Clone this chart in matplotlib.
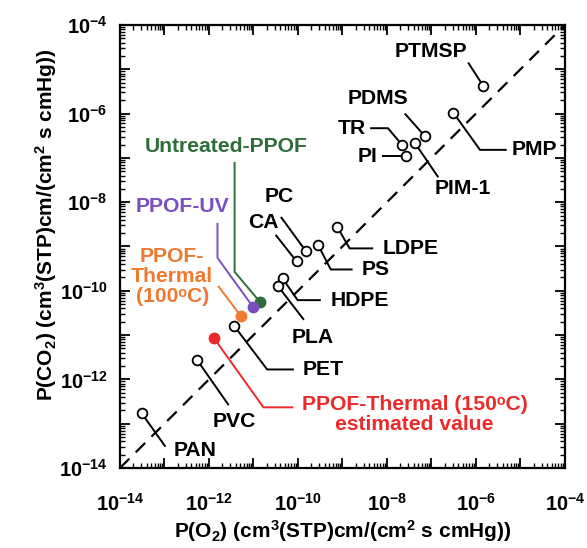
import numpy as np
import matplotlib
matplotlib.use('Agg')
import matplotlib.pyplot as plt
from matplotlib.ticker import LogLocator, FuncFormatter, NullFormatter

plt.rcParams['font.family'] = ['Liberation Sans', 'DejaVu Sans']
plt.rcParams['font.weight'] = 'bold'
plt.rcParams['mathtext.fontset'] = 'custom'
plt.rcParams['mathtext.rm'] = 'Liberation Sans:bold'
plt.rcParams['mathtext.it'] = 'Liberation Sans:bold'
plt.rcParams['mathtext.bf'] = 'Liberation Sans:bold'
plt.rcParams['mathtext.default'] = 'rm'

# Reference polymers: O2 and CO2 permeability, cm3(STP)cm/(cm2 s cmHg)
materials = ['PTMSP', 'PMP', 'PDMS', 'PIM-1', 'TR', 'PI', 'LDPE', 'PS', 'PC',
             'CA', 'HDPE', 'PLA', 'PET', 'PVC', 'PAN']
p_o2 = [1.46e-6, 3.1e-7, 7.1e-8, 4.2e-8, 2.2e-8, 2.7e-8, 7.6e-10, 2.8e-10,
        1.5e-10, 9.3e-11, 4.5e-11, 3.5e-11, 3.7e-12, 5.4e-13, 3.1e-14]
p_co2 = [4.2e-6, 1.05e-6, 3.1e-7, 2.2e-7, 1.95e-7, 1.1e-7, 2.8e-9, 1.1e-9,
         7.9e-10, 4.6e-10, 1.9e-10, 1.3e-10, 1.6e-11, 2.75e-12, 1.7e-13]

# PPOF films
ppof_names = ['Untreated-PPOF', 'PPOF-UV', 'PPOF-\nThermal\n(100\u1d52C)',
              'PPOF-Thermal (150\u1d52C)\nestimated value']
ppof_o2 = [1.4e-11, 9.8e-12, 5.2e-12, 1.3e-12]
ppof_co2 = [5.6e-11, 4.3e-11, 2.7e-11, 8.5e-12]
ppof_colors = ['#2f6e3b', '#7a4fc0', '#ee7a32', '#ec2a2a']

axis_range = [1e-14, 1e-4]

# Leader geometry, in decades relative to each point:
# (leader vertices, label position, horizontal alignment)
label_layout = {
    'PTMSP': ([(-0.34, 0.53)], (-1.17, 0.77), 'center'),
    'PMP':   ([(0.60, -0.84), (1.20, -0.84)], (1.31, -0.84), 'left'),
    'PDMS':  ([(-0.45, 0.51)], (-1.05, 0.85), 'center'),
    'PIM-1': ([(0.53, -0.78)], (1.09, -1.03), 'center'),
    'TR':    ([(-0.32, 0.38), (-0.72, 0.38)], (-0.81, 0.38), 'right'),
    'PI':    ([(-0.55, 0.0)], (-0.64, 0.0), 'right'),
    'LDPE':  ([(0.28, -0.49), (0.81, -0.49)], (1.03, -0.49), 'left'),
    'PS':    ([(0.29, -0.56), (0.78, -0.56)], (0.98, -0.56), 'left'),
    'PC':    ([(-0.56, 0.77)], (-0.60, 1.23), 'center'),
    'CA':    ([(-0.47, 0.60)], (-0.74, 0.87), 'center'),
    'HDPE':  ([(0.34, -0.49), (0.86, -0.49)], (1.09, -0.49), 'left'),
    'PLA':   ([(0.59, -0.77)], (0.78, -1.16), 'center'),
    'PET':   ([(0.74, -0.98), (1.34, -0.98)], (1.53, -0.98), 'left'),
    'PVC':   ([(0.71, -1.02)], (0.83, -1.39), 'center'),
    'PAN':   ([(0.53, -0.75)], (1.20, -0.83), 'center'),
}
ppof_layout = [
    ([(-0.57, 0.68), (-0.57, 3.16)], (-0.75, 3.50)),
    ([(-0.80, 1.11), (-0.80, 1.90)], (-1.59, 2.27)),
    ([(-0.51, 0.68)], (-1.54, 0.89)),
    ([(1.11, -1.56), (1.78, -1.56)], (4.51, -1.73)),
]

LABEL_SIZE = 15.2

fig = plt.figure(figsize=(5.87, 5.48), dpi=100)
ax = fig.add_axes([0.2044, 0.146, 0.758, 0.8084])
ax.set_xscale('log')
ax.set_yscale('log')
ax.set_xlim(axis_range)
ax.set_ylim(axis_range)

# Equal-permeability line
ax.plot(axis_range, axis_range, color='black', lw=1.6, dashes=(6.0, 4.0), zorder=1)


def leader(x, y, verts, color):
    xs = [x] + [x * 10 ** dx for dx, dy in verts]
    ys = [y] + [y * 10 ** dy for dx, dy in verts]
    ax.plot(xs, ys, color=color, lw=1.4, solid_capstyle='butt',
            solid_joinstyle='miter', zorder=2)


for name, x, y in zip(materials, p_o2, p_co2):
    verts, (tx, ty), ha = label_layout[name]
    leader(x, y, verts, 'black')
    ax.text(x * 10 ** tx, y * 10 ** ty, name, ha=ha, va='center',
            fontsize=LABEL_SIZE, fontweight='bold', color='black', zorder=4)
ax.plot(p_o2, p_co2, 'o', ms=7, mfc='white', mec='black', mew=1.3, zorder=3)

for name, x, y, c, (verts, (tx, ty)) in zip(ppof_names, ppof_o2, ppof_co2,
                                             ppof_colors, ppof_layout):
    leader(x, y, verts, c)
    ax.text(x * 10 ** tx, y * 10 ** ty, name, ha='center', va='center',
            multialignment='center', linespacing=1.05, fontsize=LABEL_SIZE,
            fontweight='bold', color=c, zorder=4)
    ax.plot([x], [y], 'o', ms=7.5, color=c, mec=c, zorder=3)

# Ticks: every decade, labels on every second one
for axis in (ax.xaxis, ax.yaxis):
    axis.set_major_locator(LogLocator(base=10, numticks=30))
    axis.set_minor_locator(LogLocator(base=10, subs=np.arange(2, 10), numticks=30))
    axis.set_minor_formatter(NullFormatter())
    axis.set_major_formatter(FuncFormatter(
        lambda v, pos: (r'$10^{%d}$' % round(np.log10(v)))
        if round(np.log10(v)) % 2 == 0 else ''))

ax.tick_params(which='both', direction='in', top=True, right=True,
               labelsize=14.5)
ax.tick_params(which='major', length=7, width=1.3)
ax.tick_params(which='minor', length=3.5, width=1.0)
ax.tick_params(axis='x', which='major', pad=18)
ax.tick_params(axis='y', which='major', pad=9)
for s in ax.spines.values():
    s.set_linewidth(1.6)

ax.set_xlabel(r'P(O$_2$) (cm$^3$(STP)cm/(cm$^2$ s cmHg))', fontsize=15,
              fontweight='bold')
ax.set_ylabel(r'P(CO$_2$) (cm$^3$(STP)cm/(cm$^2$ s cmHg))', fontsize=15,
              fontweight='bold')
ax.xaxis.set_label_coords(0.5, -0.112)
ax.yaxis.set_label_coords(-0.137, 0.5485)

fig.savefig('out.png', dpi=100)
